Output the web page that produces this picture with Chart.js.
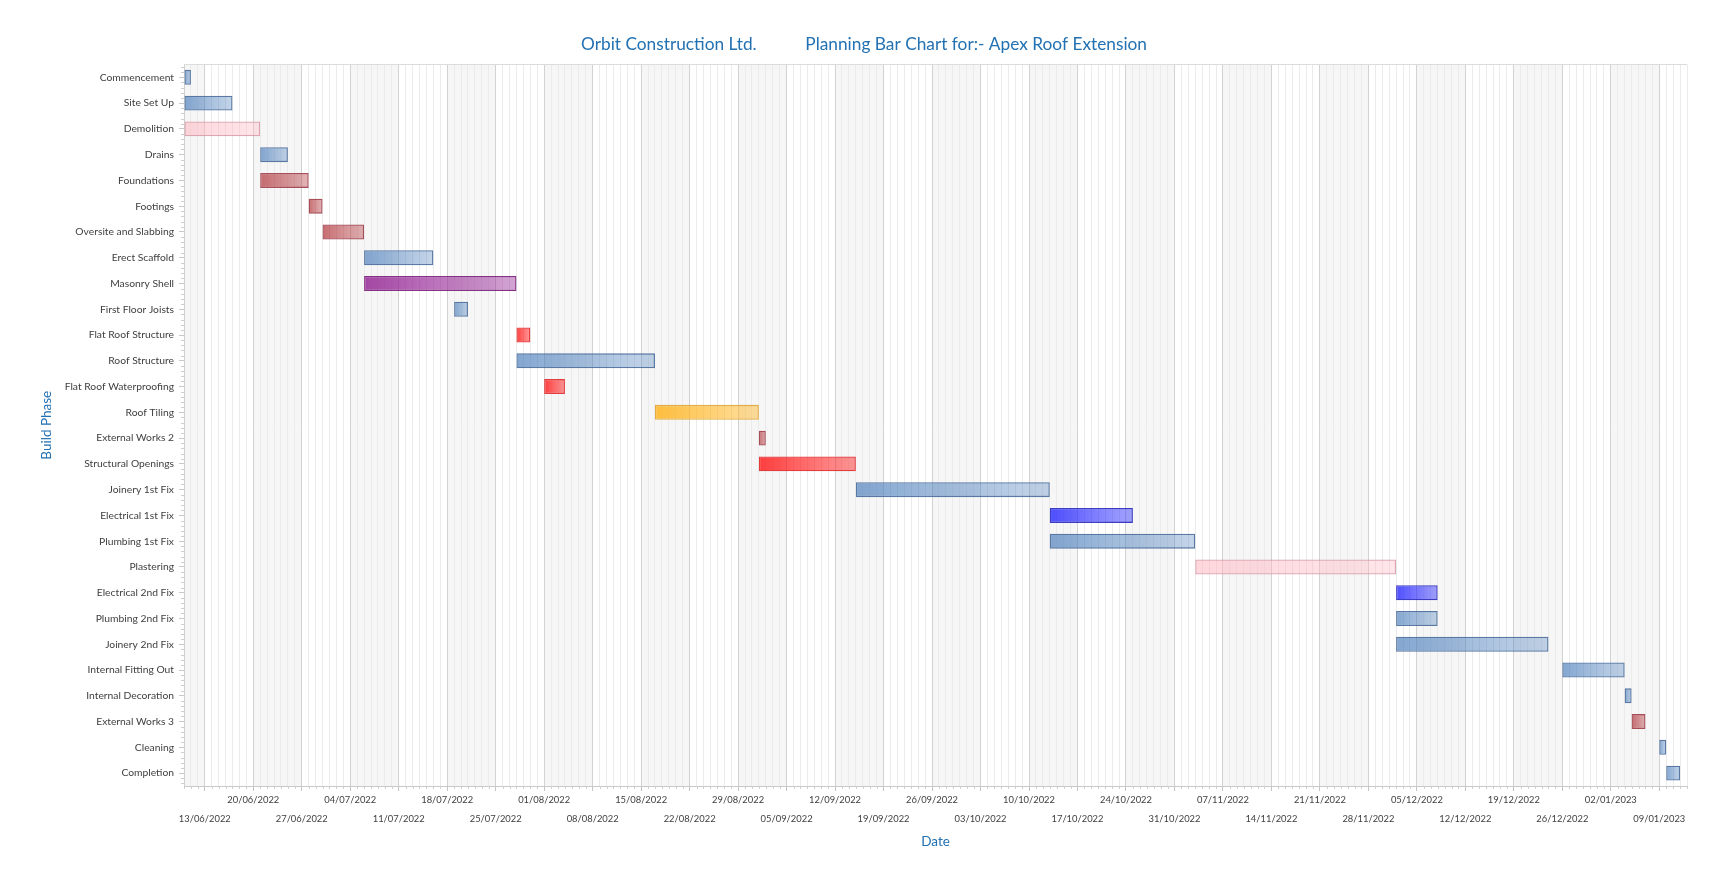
<!DOCTYPE html>
<html>
<head>
<meta charset="utf-8">
<title>Planning Bar Chart - Apex Roof Extension</title>
<script src="https://cdn.jsdelivr.net/npm/chart.js@4.4.1/dist/chart.umd.min.js"></script>
<style>
  html, body { margin: 0; padding: 0; background: #fff; }
  #wrap { width: 1728px; height: 870px; }
</style>
</head>
<body>
<div id="wrap"><canvas id="planChart"></canvas></div>
<script>
// build phases, top to bottom
const phases = [
    'Commencement', 'Site Set Up', 'Demolition', 'Drains', 'Foundations', 'Footings',
    'Oversite and Slabbing', 'Erect Scaffold', 'Masonry Shell', 'First Floor Joists',
    'Flat Roof Structure', 'Roof Structure', 'Flat Roof Waterproofing', 'Roof Tiling',
    'External Works 2', 'Structural Openings', 'Joinery 1st Fix', 'Electrical 1st Fix',
    'Plumbing 1st Fix', 'Plastering', 'Electrical 2nd Fix', 'Plumbing 2nd Fix',
    'Joinery 2nd Fix', 'Internal Fitting Out', 'Internal Decoration', 'External Works 3',
    'Cleaning', 'Completion'
];

const startDates = [
    '10/06/2022', '10/06/2022', '10/06/2022', '21/06/2022', '21/06/2022', '28/06/2022',
    '30/06/2022', '06/07/2022', '06/07/2022', '19/07/2022',
    '28/07/2022', '28/07/2022', '01/08/2022', '17/08/2022',
    '01/09/2022', '01/09/2022', '15/09/2022', '13/10/2022',
    '13/10/2022', '03/11/2022', '02/12/2022', '02/12/2022',
    '02/12/2022', '26/12/2022', '04/01/2023', '05/01/2023',
    '09/01/2023', '10/01/2023'
];

const endDates = [
    '11/06/2022', '17/06/2022', '21/06/2022', '25/06/2022', '28/06/2022', '30/06/2022',
    '06/07/2022', '16/07/2022', '28/07/2022', '21/07/2022',
    '30/07/2022', '17/08/2022', '04/08/2022', '01/09/2022',
    '02/09/2022', '15/09/2022', '13/10/2022', '25/10/2022',
    '03/11/2022', '02/12/2022', '08/12/2022', '08/12/2022',
    '24/12/2022', '04/01/2023', '05/01/2023', '07/01/2023',
    '10/01/2023', '12/01/2023'
];

// trade group of each phase (decides the bar colour)
const phaseGroup = [
    'general', 'general', 'strip', 'general', 'groundworks', 'groundworks',
    'groundworks', 'general', 'masonry', 'general',
    'flatRoof', 'general', 'flatRoof', 'tiling',
    'groundworks', 'openings', 'general', 'electrical',
    'general', 'plaster', 'electrical', 'general',
    'general', 'general', 'general', 'groundworks',
    'general', 'general'
];

// week commencing labels on the date axis
const weekLabels = [
    '13/06/2022', '20/06/2022', '27/06/2022', '04/07/2022', '11/07/2022', '18/07/2022',
    '25/07/2022', '01/08/2022', '08/08/2022', '15/08/2022', '22/08/2022', '29/08/2022',
    '05/09/2022', '12/09/2022', '19/09/2022', '26/09/2022', '03/10/2022', '10/10/2022',
    '17/10/2022', '24/10/2022', '31/10/2022', '07/11/2022', '14/11/2022', '21/11/2022',
    '28/11/2022', '05/12/2022', '12/12/2022', '19/12/2022', '26/12/2022', '02/01/2023',
    '09/01/2023'
];

const axisStart = '10/06/2022';
const axisEnd = '13/01/2023';

const companyName = 'Orbit Construction Ltd.';
const chartName = 'Planning Bar Chart for:- Apex Roof Extension';

// ---- helpers ----
function toUtc(str) {
    const [d, m, y] = str.split('/').map(Number);
    return Date.UTC(y, m - 1, d);
}
const originMs = toUtc(axisStart);
function dayNo(str) {
    return Math.round((toUtc(str) - originMs) / 86400000);
}

const axisMin = dayNo(axisStart);
const axisMax = dayNo(axisEnd);
const mondays = weekLabels.map(dayNo);
const mondaySet = new Set(mondays);
const weekLabelAt = new Map();
weekLabels.forEach((s, i) => {
    // alternate the labels onto two rows
    weekLabelAt.set(dayNo(s), i % 2 ? [s] : ['', s]);
});

const barData = phases.map((p, i) => [dayNo(startDates[i]), dayNo(endDates[i])]);

const palette = {
    general:     { rgb: [79, 129, 189],  from: 0.70, to: 0.33, border: 'rgba(72, 108, 155, 0.9)' },
    strip:       { rgb: [255, 182, 193], from: 0.55, to: 0.35, border: 'rgba(215, 150, 165, 0.85)' },
    plaster:     { rgb: [255, 182, 193], from: 0.55, to: 0.35, border: 'rgba(215, 150, 165, 0.85)' },
    groundworks: { rgb: [180, 60, 65],   from: 0.75, to: 0.38, border: 'rgba(160, 60, 72, 0.9)' },
    masonry:     { rgb: [150, 40, 150],  from: 0.85, to: 0.42, border: 'rgba(120, 30, 120, 0.9)' },
    flatRoof:    { rgb: [255, 30, 30],   from: 0.85, to: 0.45, border: 'rgba(225, 40, 40, 0.9)' },
    openings:    { rgb: [255, 30, 30],   from: 0.85, to: 0.45, border: 'rgba(225, 40, 40, 0.9)' },
    tiling:      { rgb: [255, 180, 30],  from: 0.85, to: 0.42, border: 'rgba(225, 165, 50, 0.9)' },
    electrical:  { rgb: [40, 40, 255],   from: 0.82, to: 0.42, border: 'rgba(40, 40, 190, 0.9)' }
};

function rgba(c, a) {
    return 'rgba(' + c[0] + ',' + c[1] + ',' + c[2] + ',' + a + ')';
}

function barFill(ctx) {
    if (ctx.type !== 'data') return rgba(palette.general.rgb, 0.5);
    const p = palette[phaseGroup[ctx.dataIndex]];
    const chart = ctx.chart;
    if (!chart.chartArea) return rgba(p.rgb, p.from);
    const xs = chart.scales.x;
    const x0 = xs.getPixelForValue(ctx.raw[0]);
    const x1 = xs.getPixelForValue(ctx.raw[1]);
    const g = chart.ctx.createLinearGradient(x0, 0, x1, 0);
    g.addColorStop(0, rgba(p.rgb, p.from));
    g.addColorStop(1, rgba(p.rgb, p.to));
    return g;
}

function barBorder(ctx) {
    if (ctx.type !== 'data') return palette.general.border;
    return palette[phaseGroup[ctx.dataIndex]].border;
}

// alternate shaded weeks behind the grid
const weekBands = {
    id: 'weekBands',
    beforeDraw(chart) {
        const { ctx, chartArea } = chart;
        const xs = chart.scales.x;
        const edges = [axisMin, ...mondays, axisMax];
        ctx.save();
        ctx.fillStyle = '#f6f6f6';
        for (let k = 0; k < edges.length - 1; k += 2) {
            const a = xs.getPixelForValue(edges[k]);
            const b = xs.getPixelForValue(edges[k + 1]);
            ctx.fillRect(a, chartArea.top, b - a, chartArea.bottom - chartArea.top);
        }
        ctx.restore();
    },
    afterDraw(chart) {
        const { ctx, chartArea } = chart;
        const xs = chart.scales.x;
        ctx.save();
        ctx.strokeStyle = '#dcdcdc';
        ctx.lineWidth = 1;
        ctx.beginPath();
        ctx.moveTo(chartArea.left, Math.round(chartArea.top) + 0.5);
        ctx.lineTo(chartArea.right, Math.round(chartArea.top) + 0.5);
        ctx.stroke();

        // short daily ticks under the date axis
        ctx.strokeStyle = '#cfcfcf';
        ctx.beginPath();
        for (let d = axisMin; d <= axisMax; d++) {
            if (mondaySet.has(d)) continue;
            const x = Math.round(xs.getPixelForValue(d)) + 0.5;
            ctx.moveTo(x, chartArea.bottom);
            ctx.lineTo(x, chartArea.bottom + 3);
        }
        // minor ticks on the phase axis
        const rowH = (chartArea.bottom - chartArea.top) / phases.length;
        const step = rowH / 5;
        const first = chartArea.top + rowH / 2;
        for (let k = -2; k <= phases.length * 5 + 2; k++) {
            if (k % 5 === 0) continue;
            const y = first + k * step;
            if (y < chartArea.top || y > chartArea.bottom) continue;
            const yy = Math.round(y) + 0.5;
            ctx.moveTo(chartArea.left - 3, yy);
            ctx.lineTo(chartArea.left, yy);
        }
        ctx.stroke();
        ctx.restore();
    }
};

Chart.defaults.font.family = 'Lato, "Open Sans", sans-serif';
Chart.defaults.color = '#404040';

const titleBlue = '#2271b3';

new Chart(document.getElementById('planChart').getContext('2d'), {
    type: 'bar',
    data: {
        labels: phases,
        datasets: [{
            label: 'Build programme',
            data: barData,
            backgroundColor: barFill,
            borderColor: barBorder,
            borderWidth: 1.3,
            borderSkipped: false,
            barPercentage: 0.58,
            categoryPercentage: 1.0
        }]
    },
    options: {
        indexAxis: 'y',
        responsive: true,
        maintainAspectRatio: false,
        animation: false,
        layout: { padding: 0 },
        plugins: {
            legend: { display: false },
            tooltip: { enabled: false },
            title: {
                display: true,
                text: companyName + '           ' + chartName,
                color: titleBlue,
                font: { size: 17.3, weight: 'normal' },
                padding: { top: 34.3, bottom: 9.4 }
            }
        },
        scales: {
            x: {
                type: 'linear',
                position: 'bottom',
                min: axisMin,
                max: axisMax,
                afterBuildTicks(scale) {
                    const t = [];
                    for (let d = axisMin; d <= axisMax; d++) t.push({ value: d });
                    scale.ticks = t;
                },
                afterFit(scale) { scale.height = 84; },
                ticks: {
                    autoSkip: false,
                    maxRotation: 0,
                    minRotation: 0,
                    padding: 0,
                    color: '#404040',
                    font: { size: 9.4, lineHeight: 2 },
                    callback: (value) => weekLabelAt.get(value) || ''
                },
                grid: {
                    color: (c) => (c.tick && mondaySet.has(c.tick.value)) ? '#d2d2d2' : '#ebebeb',
                    tickColor: (c) => (c.tick && mondaySet.has(c.tick.value)) ? '#c4c4c4' : 'rgba(0,0,0,0)',
                    tickLength: 5
                },
                border: { color: '#c8c8c8' },
                title: {
                    display: true,
                    text: 'Date',
                    color: titleBlue,
                    font: { size: 13.5 },
                    padding: { top: 0, bottom: 20 }
                }
            },
            y: {
                type: 'category',
                position: 'left',
                afterFit(scale) { scale.width = 184; },
                ticks: {
                    autoSkip: false,
                    padding: 5,
                    color: '#404040',
                    font: { size: 10.3 }
                },
                grid: {
                    drawOnChartArea: false,
                    offset: false,
                    tickLength: 5,
                    color: '#c8c8c8'
                },
                border: { color: '#d0d0d0' },
                title: {
                    display: true,
                    text: 'Build Phase',
                    color: titleBlue,
                    font: { size: 13.5 },
                    padding: { top: 38.5, bottom: 0 }
                }
            },
            yRight: {
                type: 'linear',
                position: 'right',
                display: true,
                afterFit(scale) { scale.width = 41; },
                ticks: { display: false },
                grid: { display: false },
                border: { display: false }
            }
        }
    },
    plugins: [weekBands]
});
</script>
</body>
</html>
